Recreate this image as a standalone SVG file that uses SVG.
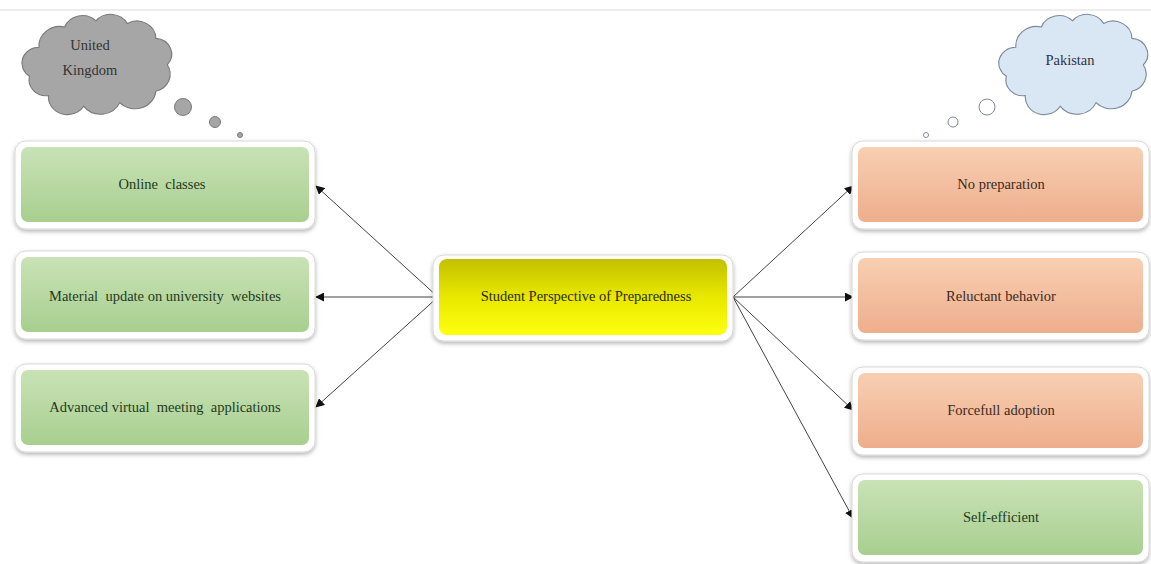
<svg xmlns="http://www.w3.org/2000/svg" width="1151" height="564" viewBox="0 0 1151 564">
<defs>
<linearGradient id="gGreen" x1="0" y1="0" x2="0" y2="1"><stop offset="0" stop-color="#c9e2b6"/><stop offset="1" stop-color="#a8cf8f"/></linearGradient>
<linearGradient id="gOrange" x1="0" y1="0" x2="0" y2="1"><stop offset="0" stop-color="#f8cfb2"/><stop offset="1" stop-color="#eeae8c"/></linearGradient>
<linearGradient id="gYellow" x1="0" y1="0" x2="0" y2="1"><stop offset="0" stop-color="#c2c000"/><stop offset="0.5" stop-color="#e8e800"/><stop offset="1" stop-color="#ffff10"/></linearGradient>
<filter id="sh" x="-10%" y="-10%" width="120%" height="130%"><feDropShadow dx="0" dy="2" stdDeviation="2" flood-color="#000" flood-opacity="0.3"/></filter>
<marker id="arr" viewBox="0 0 10 10" refX="9" refY="5" markerWidth="9" markerHeight="9" orient="auto" markerUnits="userSpaceOnUse"><path d="M0,0 L10,5 L0,10 Z" fill="#111"/></marker>
<path id="cloud" d="M35,45 A22,22 0 0 1 62,22 A20,20 0 0 1 95,15 A20,20 0 0 1 128,18 A20,20 0 0 1 158,35 A18,18 0 0 1 170,65 A20,20 0 0 1 158,95 A22,22 0 0 1 120,108 A22,22 0 0 1 82,112 A20,20 0 0 1 45,100 A18,18 0 0 1 25,78 A18,18 0 0 1 35,45 Z"/>
</defs>
<style>
.outer{fill:#ffffff;stroke:#d8d8d8;stroke-width:1;filter:url(#sh)}
.green{fill:url(#gGreen)}
.orange{fill:url(#gOrange)}
.yellow{fill:url(#gYellow)}
text{font-family:"Liberation Serif","Times New Roman",serif}
.lbl{font-size:14.5px;text-anchor:middle;dominant-baseline:middle}
.gt{fill:#1e3a1e}
.ot{fill:#3b2a1e}
.yt{fill:#2a2a00}
.conn line{stroke:#444;stroke-width:1;marker-end:url(#arr)}
</style>
<rect width="1151" height="564" fill="#ffffff"/>
<line x1="0" y1="10" x2="1151" y2="10" stroke="#e6e6e6" stroke-width="1.5"/>

<g id="cloud-uk">
<use href="#cloud" transform="translate(5.75,7.6) scale(0.95,0.88)" fill="#a6a6a6" stroke="#7a7a7a" stroke-width="1.2"/>
<circle cx="183" cy="107" r="8.5" fill="#a6a6a6" stroke="#7a7a7a"/>
<circle cx="215" cy="122" r="5.5" fill="#a6a6a6" stroke="#7a7a7a"/>
<circle cx="240" cy="135" r="2.5" fill="#a6a6a6" stroke="#7a7a7a"/>
<text class="lbl" x="90" y="47" fill="#333" font-family="Liberation Serif, serif">United</text>
<text class="lbl" x="90" y="72" fill="#333" font-family="Liberation Serif, serif">Kingdom</text>
</g>

<g id="cloud-pk">
<use href="#cloud" transform="translate(982.8,7.6) scale(0.944,0.88)" fill="#d9e6f4" stroke="#7d8a99" stroke-width="1.2"/>
<circle cx="987" cy="107" r="8" fill="#ffffff" stroke="#7d8a99"/>
<circle cx="953" cy="122" r="5" fill="#ffffff" stroke="#7d8a99"/>
<circle cx="926" cy="135" r="2.5" fill="#ffffff" stroke="#7d8a99"/>
<text class="lbl" x="1070" y="62" fill="#334" font-family="Liberation Serif, serif">Pakistan</text>
</g>

<g class="conn" id="connectors">
<line x1="438" y1="297" x2="316" y2="186"/>
<line x1="438" y1="297" x2="316" y2="297"/>
<line x1="438" y1="297" x2="316" y2="407"/>
<line x1="733" y1="297" x2="853" y2="186"/>
<line x1="733" y1="297" x2="853" y2="297"/>
<line x1="733" y1="297" x2="853" y2="410"/>
<line x1="733" y1="297" x2="853" y2="518"/>
</g>

<g id="n-center">
<rect class="outer" x="433" y="255" width="300" height="86" rx="11"/>
<rect class="yellow" x="439" y="259" width="288" height="76" rx="8"/>
<text class="lbl yt" x="586" y="298" font-family="Liberation Serif, serif">Student Perspective of Preparedness</text>
</g>

<g id="n-online">
<rect class="outer" x="15" y="141" width="300" height="88" rx="11"/>
<rect class="green" x="21" y="147" width="288" height="75" rx="7"/>
<text class="lbl gt" x="162" y="186" font-family="Liberation Serif, serif" xml:space="preserve">Online  classes</text>
</g>
<g id="n-material">
<rect class="outer" x="15" y="251" width="300" height="88" rx="11"/>
<rect class="green" x="21" y="257" width="288" height="75" rx="7"/>
<text class="lbl gt" x="165" y="298" font-family="Liberation Serif, serif" xml:space="preserve">Material  update on university  websites</text>
</g>
<g id="n-advanced">
<rect class="outer" x="15" y="364" width="300" height="88" rx="11"/>
<rect class="green" x="21" y="370" width="288" height="75" rx="7"/>
<text class="lbl gt" x="165" y="409" font-family="Liberation Serif, serif" xml:space="preserve">Advanced virtual  meeting  applications</text>
</g>

<g id="n-noprep">
<rect class="outer" x="852" y="141" width="297" height="88" rx="11"/>
<rect class="orange" x="858" y="147" width="285" height="75" rx="7"/>
<text class="lbl ot" x="1001" y="186" font-family="Liberation Serif, serif">No preparation</text>
</g>
<g id="n-reluctant">
<rect class="outer" x="852" y="252" width="297" height="88" rx="11"/>
<rect class="orange" x="858" y="258" width="285" height="75" rx="7"/>
<text class="lbl ot" x="1001" y="298" font-family="Liberation Serif, serif">Reluctant behavior</text>
</g>
<g id="n-forcefull">
<rect class="outer" x="852" y="367" width="297" height="88" rx="11"/>
<rect class="orange" x="858" y="373" width="285" height="75" rx="7"/>
<text class="lbl ot" x="1001" y="412" font-family="Liberation Serif, serif">Forcefull adoption</text>
</g>
<g id="n-self">
<rect class="outer" x="852" y="474" width="297" height="88" rx="11"/>
<rect class="green" x="858" y="480" width="285" height="75" rx="7"/>
<text class="lbl gt" x="1001" y="519" font-family="Liberation Serif, serif">Self-efficient</text>
</g>
</svg>
